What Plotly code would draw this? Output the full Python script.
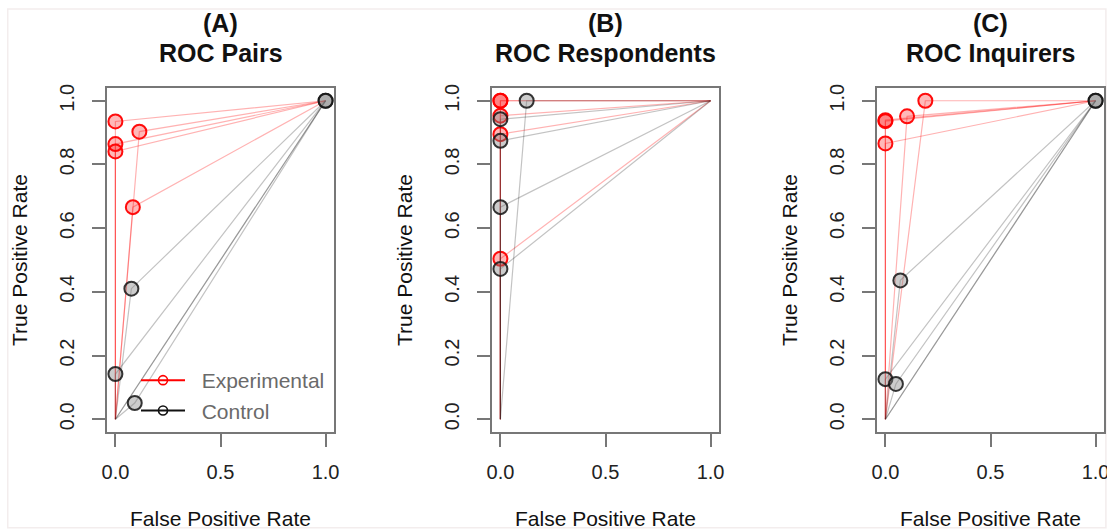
import plotly.graph_objects as go

# ---------------- data ----------------
panel_letters = ["(A)", "(B)", "(C)"]
panel_names = ["ROC Pairs", "ROC Respondents", "ROC Inquirers"]

exp_fpr_A = [0.000, 0.114, 0.000, 0.000, 0.083]
exp_tpr_A = [0.935, 0.903, 0.864, 0.841, 0.666]
ctl_fpr_A = [0.076, 0.000, 0.092, 1.000, 1.000]
ctl_tpr_A = [0.410, 0.142, 0.051, 1.000, 1.000]

exp_fpr_B = [0.000, 0.000, 0.000, 0.000, 0.000]
exp_tpr_B = [1.000, 1.000, 0.953, 0.895, 0.504]
ctl_fpr_B = [0.125, 0.000, 0.000, 0.000, 0.000]
ctl_tpr_B = [1.000, 0.942, 0.874, 0.666, 0.472]

exp_fpr_C = [0.190, 0.103, 0.000, 0.000, 0.000]
exp_tpr_C = [1.000, 0.951, 0.939, 0.936, 0.866]
ctl_fpr_C = [0.071, 0.000, 0.050, 1.000, 1.000]
ctl_tpr_C = [0.436, 0.126, 0.111, 1.000, 1.000]

x_tick_vals = [0, 0.5, 1]
x_tick_text = ["0.0", "0.5", "1.0"]
y_tick_vals = [0, 0.2, 0.4, 0.6, 0.8, 1.0]
y_tick_text = ["0.0", "0.2", "0.4", "0.6", "0.8", "1.0"]
legend_names = ["Experimental", "Control"]

panels = [
    (exp_fpr_A, exp_tpr_A, ctl_fpr_A, ctl_tpr_A),
    (exp_fpr_B, exp_tpr_B, ctl_fpr_B, ctl_tpr_B),
    (exp_fpr_C, exp_tpr_C, ctl_fpr_C, ctl_tpr_C),
]

# ---------------- layout geometry ----------------
W, H = 1107, 531
box_left = [107, 492, 877]
box_w = 227
box_top, box_bot = 88, 432

RED_LINE = "rgba(255,0,0,0.30)"
GRAY_LINE = "rgba(40,40,40,0.28)"
RED_FILL = "rgba(255,0,0,0.28)"
RED_EDGE = "rgba(255,0,0,0.95)"
GRAY_FILL = "rgba(128,128,128,0.40)"
GRAY_EDGE = "rgba(20,20,20,0.85)"

fig = go.Figure()

for i, (ef, et, cf, ct) in enumerate(panels):
    ax = "" if i == 0 else str(i + 1)
    xa, ya = "x" + ax, "y" + ax
    for f, t in zip(ef, et):
        fig.add_trace(go.Scatter(x=[0, f, 1], y=[0, t, 1], mode="lines",
                                 line=dict(color=RED_LINE, width=1.2),
                                 xaxis=xa, yaxis=ya, showlegend=False, hoverinfo="skip"))
    fig.add_trace(go.Scatter(x=ef, y=et, mode="markers",
                             marker=dict(size=14, color=RED_FILL,
                                         line=dict(color=RED_EDGE, width=2)),
                             xaxis=xa, yaxis=ya, showlegend=False))
    for f, t in zip(cf, ct):
        fig.add_trace(go.Scatter(x=[0, f, 1], y=[0, t, 1], mode="lines",
                                 line=dict(color=GRAY_LINE, width=1.2),
                                 xaxis=xa, yaxis=ya, showlegend=False, hoverinfo="skip"))
    fig.add_trace(go.Scatter(x=cf, y=ct, mode="markers",
                             marker=dict(size=14, color=GRAY_FILL,
                                         line=dict(color=GRAY_EDGE, width=2)),
                             xaxis=xa, yaxis=ya, showlegend=False))

fig.add_trace(go.Scatter(x=[None], y=[None], mode="lines+markers",
                         name="\u00a0\u00a0" + legend_names[0],
                         line=dict(color="#ff0000", width=2),
                         marker=dict(symbol="circle-open", size=9, color="#ff0000",
                                     line=dict(width=1.6))))
fig.add_trace(go.Scatter(x=[None], y=[None], mode="lines+markers",
                         name="\u00a0\u00a0" + legend_names[1],
                         line=dict(color="#111111", width=2),
                         marker=dict(symbol="circle-open", size=9, color="#111111",
                                     line=dict(width=1.6))))

axis_common = dict(range=[-0.04, 1.04], showgrid=False, zeroline=False, automargin=False,
                   showline=True, mirror=True, linecolor="#777777", linewidth=2,
                   ticks="outside", ticklen=13, tickwidth=1.5, tickcolor="#777777",
                   ticklabeloverflow="allow",
                   tickfont=dict(family="Liberation Sans, Arial, sans-serif", size=20, color="#222222"),
                   fixedrange=True)

layout = dict(width=W, height=H, margin=dict(l=0, r=0, t=0, b=0, autoexpand=False),
              paper_bgcolor="white", plot_bgcolor="white",
              font=dict(family="Liberation Sans, Arial, sans-serif"),
              showlegend=True,
              legend=dict(x=136 / W, y=1 - 360 / H, xanchor="left", yanchor="top",
                          bgcolor="rgba(0,0,0,0)", borderwidth=0,
                          font=dict(size=21, color="#6a6a6a"),
                          itemwidth=44, tracegroupgap=0))

annotations = []
for i in range(3):
    ax = "" if i == 0 else str(i + 1)
    x0 = box_left[i] / W
    x1 = (box_left[i] + box_w) / W
    layout["xaxis" + ax] = dict(axis_common, domain=[x0, x1], anchor="y" + ax,
                                tickvals=x_tick_vals, ticktext=x_tick_text,
                                ticklabelstandoff=8)
    layout["yaxis" + ax] = dict(axis_common, domain=[1 - box_bot / H, 1 - box_top / H],
                                anchor="x" + ax, tickvals=y_tick_vals, ticktext=y_tick_text,
                                tickangle=-90, ticklabelstandoff=10)
    cx = (box_left[i] + box_w / 2) / W
    annotations.append(dict(text="<b>" + panel_letters[i] + "</b>", x=cx, y=1 - 23 / H,
                            xref="paper", yref="paper", showarrow=False,
                            xanchor="center", yanchor="middle",
                            font=dict(size=25, color="#111111")))
    annotations.append(dict(text="<b>" + panel_names[i] + "</b>", x=cx, y=1 - 53 / H,
                            xref="paper", yref="paper", showarrow=False,
                            xanchor="center", yanchor="middle",
                            font=dict(size=25, color="#111111")))
    annotations.append(dict(text="False Positive Rate", x=cx, y=1 - 518 / H,
                            xref="paper", yref="paper", showarrow=False,
                            xanchor="center", yanchor="middle",
                            font=dict(size=21, color="#111111")))
    annotations.append(dict(text="True Positive Rate", x=(box_left[i] - 88) / W,
                            y=1 - ((box_top + box_bot) / 2) / H,
                            xref="paper", yref="paper", showarrow=False, textangle=-90,
                            xanchor="center", yanchor="middle",
                            font=dict(size=21, color="#111111")))
layout["annotations"] = annotations
layout["shapes"] = [dict(type="rect", xref="paper", yref="paper", x0=0.007, x1=0.999,
                         y0=0.006, y1=0.983, line=dict(color="#f3eded", width=1.5),
                         layer="below")]

fig.update_layout(**layout)
fig.write_html("out.html", config={"displayModeBar": False},
               post_script="document.body.style.margin='0';document.body.style.overflow='hidden';")
